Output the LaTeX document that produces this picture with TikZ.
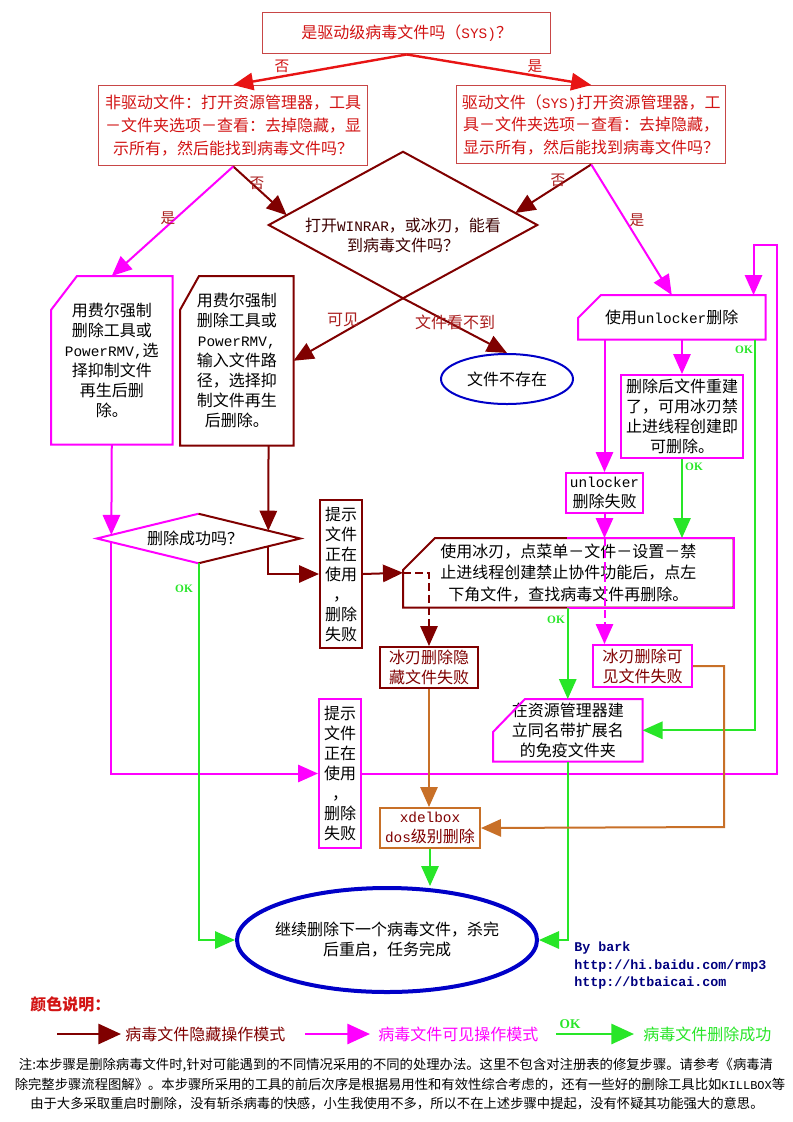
\documentclass[tikz,border=0pt]{standalone}
\usepackage{fontspec}
\setmainfont{Noto Sans CJK SC}
\newfontfamily\lmono[Scale=0.9]{Liberation Mono}
\newfontfamily\byfont{Liberation Mono}
\newfontfamily\okfont{Liberation Serif}
\usetikzlibrary{arrows.meta,calc,shapes.geometric}
\definecolor{boxred}{RGB}{200,70,70}
\definecolor{txtred}{RGB}{210,20,20}
\definecolor{arrred}{RGB}{232,20,20}
\definecolor{dr}{RGB}{128,0,0}
\definecolor{mg}{RGB}{255,0,255}
\definecolor{gr}{RGB}{40,230,40}
\definecolor{brn}{RGB}{200,112,40}
\definecolor{blu}{RGB}{0,0,200}
\definecolor{navy}{RGB}{0,0,128}
\definecolor{lblc}{RGB}{170,30,30}
\newcommand\lat[1]{{\lmono #1}}
\newcommand\mybox[7]{\node[#1,anchor=north west,inner sep=0pt,minimum width={(#5-#3)*0.75pt},minimum height={(#6-#4)*0.75pt}] (#2) at (#3,#4) {#7};}
\newcommand\chbox[4]{\draw[#1] (#2.south west) -- (#2.south east) -- (#2.north east) -- ($(#2.north west)+(#3,0)$) -- ($(#2.north west)+(0,#4)$) -- cycle;}
\begin{document}
\begin{tikzpicture}[x=0.75pt,y=-0.75pt,
  sBase/.style={font=\fontsize{12pt}{15pt}\selectfont, align=center},
  sRed/.style={sBase, draw=boxred, line width=1.1pt, text=txtred, font=\fontsize{12pt}{17pt}\selectfont},
  sMg/.style={sBase, draw=mg, line width=1.5pt},
  sDr/.style={sBase, draw=dr, line width=1.5pt},
  sBr/.style={sBase, draw=brn, line width=1.5pt, text=dr},
  sArr/.style={-{Triangle[length=15pt,width=13pt]}},
  sRL/.style={sArr, color=arrred, line width=1.8pt},
  sDL/.style={sArr, color=dr, line width=1.5pt},
  sML/.style={sArr, color=mg, line width=1.5pt},
  sGL/.style={sArr, color=gr, line width=1.5pt},
  sBL/.style={sArr, color=brn, line width=1.5pt},
  sLblTop/.style={font=\fontsize{11pt}{13pt}\selectfont, text=txtred, inner sep=0pt},
  sLbl/.style={font=\fontsize{11pt}{13pt}\selectfont, text=lblc, inner sep=0pt},
  sOK/.style={font=\okfont\bfseries\fontsize{8.5pt}{10pt}\selectfont, text=gr, inner sep=0pt},
  sDash/.style={dash pattern=on 6pt off 3pt}
]
\useasboundingbox (0,0) rectangle (793,1122);
\fill[white] (0,0) rectangle (793,1122);

% ---------- boxes ----------
\mybox{sRed}{T0}{262}{12}{550}{53}{是驱动级病毒文件吗（\lat{SYS)}？}
\mybox{sRed}{L1}{98}{85}{367}{165}{非驱动文件：打开资源管理器，工具\\－文件夹选项－查看：去掉隐藏，显\\示所有，然后能找到病毒文件吗？}
\mybox{sRed}{R1}{456}{85}{725}{163}{驱动文件（\lat{SYS)}打开资源管理器，工\\具－文件夹选项－查看：去掉隐藏，\\显示所有，然后能找到病毒文件吗？}

\node[inner sep=0pt, minimum width=201pt, minimum height=109.5pt] (D) at (403,225) {};
\draw[dr, line width=1.5pt] (D.north) -- (D.east) -- (D.south) -- (D.west) -- cycle;
\node[sBase, text={rgb,255:red,60;green,0;blue,0}] (Dt) at (403,235) {打开\lat{WINRAR}，或冰刃，能看\\到病毒文件吗？};

\mybox{sBase}{LD}{51}{276}{172}{444}{用费尔强制\\删除工具或\\\lat{PowerRMV,}选\\择抑制文件\\再生后删\\除。}
\chbox{mg, line width=1.5pt}{LD}{26}{34}
\mybox{sBase}{MD}{180}{276}{293}{445}{用费尔强制\\删除工具或\\\lat{PowerRMV,}\\输入文件路\\径，选择抑\\制文件再生\\后删除。}
\chbox{dr, line width=1.5pt}{MD}{19}{34}

\node[ellipse, draw=blu, line width=1.5pt, inner sep=0pt, minimum width=99pt, minimum height=37.5pt, font=\fontsize{12pt}{15pt}\selectfont] (E1) at (507,379) {文件不存在};

\mybox{sBase}{UL}{578}{295}{765}{339}{使用\lat{unlocker}删除}
\chbox{mg, line width=1.5pt}{UL}{23}{23}
\mybox{sMg}{RB}{620}{374}{742}{457}{删除后文件重建\\了，可用冰刃禁\\止进线程创建即\\可删除。}
\mybox{sMg}{UF}{565}{472}{642}{512}{\lat{unlocker}\\删除失败}

\node[inner sep=0pt, minimum width=152.25pt, minimum height=36.75pt] (D2) at (198.5,538.5) {};
\draw[mg, line width=1.5pt] (D2.north) -- (D2.west) -- (D2.south);
\draw[dr, line width=1.5pt] (D2.north) -- (D2.east) -- (D2.south);
\node[sBase] (D2t) at (195,538) {删除成功吗？};

\mybox{sDr}{T1}{319}{499}{361}{647}{提示\\文件\\正在\\使用\\，\\删除\\失败}
\mybox{sBase, font=\fontsize{12pt}{16pt}\selectfont}{BB}{403}{538}{733}{607}{使用冰刃，点菜单－文件－设置－禁\\止进线程创建禁止协件功能后，点左\\下角文件，查找病毒文件再删除。}
\chbox{dr, line width=1.5pt}{BB}{32}{32}
\draw[mg, line width=1.5pt] ($(BB.north west)+(164,0)$) -- (BB.north east) -- (BB.south east) -- ($(BB.south west)+(164,0)$);
\mybox{sDr, text=dr}{HF}{379}{646}{477}{687}{冰刃删除隐\\藏文件失败}
\mybox{sMg, text=dr}{VF}{592}{644}{691}{686}{冰刃删除可\\见文件失败}
\mybox{sBase}{IM}{493}{699}{642}{761}{在资源管理器建\\立同名带扩展名\\的免疫文件夹}
\chbox{mg, line width=1.5pt}{IM}{32}{33}
\mybox{sMg}{T2}{318}{698}{360}{847}{提示\\文件\\正在\\使用\\，\\删除\\失败}
\mybox{sBr}{XD}{379}{807}{479}{847}{\lat{xdelbox}\\\lat{dos}级别删除}

\node[ellipse, draw=blu, line width=3pt, inner sep=0pt, minimum width=225pt, minimum height=78pt] (E2) at (387,940) {};
\node[sBase] (E2t) at (387,940) {继续删除下一个病毒文件，杀完\\后重启，任务完成};

% ---------- red connectors ----------
\draw[sRL] (T0.south) -- (L1.north);
\draw[sRL] (T0.south) -- (R1.north);
\node[sLblTop] at (282,66) {否};
\node[sLblTop] at (535,66) {是};

% ---------- dark red connectors ----------
\draw[sDL] (L1.south) -- ($(D.west)!0.134!(D.north)$);
\draw[sDL] (R1.south) -- ($(D.north)!0.836!(D.east)$);
\node[sLbl] at (257,183) {否};
\node[sLbl] at (558,180) {否};
\draw[sDL] (D.south) -- (MD.east);
\node[sLbl, font=\fontsize{12pt}{14pt}\selectfont] at (343,320) {可见};
\draw[sDL] (D.south) -- (E1.north);
\node[sLbl, font=\fontsize{12pt}{14pt}\selectfont] at (455,322) {文件看不到};
\draw[sDL] ($(MD.south east)+(-25,0)$) -- ($(D2.north)!0.686!(D2.east)$);
\draw[sDL] ($(D2.east)!0.314!(D2.south)$) |- (T1.west);
\draw[sDL] (T1.east) -- (BB.west);
\draw[sDL, sDash] (BB.west) -| (HF.north);

% ---------- magenta connectors ----------
\draw[sML] (L1.south) -- (LD.north);
\draw[sML] (R1.south) -- (UL.north);
\node[sLbl] at (168,218) {是};
\node[sLbl] at (637,220) {是};
\draw[sML] (LD.south) -- ($(D2.west)!0.1436!(D2.north)$);
\draw[sML] ($(D2.west)!0.1436!(D2.south)$) |- (T2.west);
\coordinate (lpR) at (777,245);
\draw[sML] (T2.east) -| (lpR) -| ($(UL.north east)+(-12,0)$);
\draw[sML] (UF.north |- UL.south) -- (UF.north);
\draw[sML] (RB.north |- UL.south) -- (RB.north);
\draw[sML] (UF.south) -- (UF.south |- BB.north);
\draw[sML, sDash] (UF.south |- BB.north) -- (UF.south |- VF.north);

% ---------- green connectors ----------
\draw[sGL] (D2.south) |- (E2.west);
\node[sOK] at (184,589) {OK};
\draw[sGL] (RB.south) -- (RB.south |- BB.north);
\node[sOK] at (694,467) {OK};
\draw[sGL] ($(UL.south east)+(-11,0)$) |- (IM.east);
\node[sOK] at (744,350) {OK};
\draw[sGL] (IM.north |- BB.south) -- (IM.north);
\node[sOK] at (556,620) {OK};
\draw[sGL] (IM.south) |- (E2.east);
\draw[sGL] (XD.south) -- (XD.south |- E2.north);

% ---------- brown connectors ----------
\draw[sBL] (HF.south) -- (HF.south |- XD.north);
\coordinate (bc) at (724,827);
\draw[sBL] (VF.east) -| (bc) -- (XD.east);

% ---------- byline ----------
\node[anchor=west, inner sep=0pt, text=navy, font=\byfont\bfseries\fontsize{10pt}{12pt}\selectfont] (by1) at (574,948) {By bark};
\node[anchor=west, inner sep=0pt, text=navy, font=\byfont\bfseries\fontsize{10pt}{12pt}\selectfont] (by2) at (574,966) {http://hi.baidu.com/rmp3};
\node[anchor=west, inner sep=0pt, text=navy, font=\byfont\bfseries\fontsize{10pt}{12pt}\selectfont] (by3) at (574,983) {http://btbaicai.com};

% ---------- legend ----------
\node[anchor=west, inner sep=0pt, text=txtred, font=\bfseries\fontsize{12pt}{14pt}\selectfont] (cs) at (30,1004) {颜色说明：};
\coordinate (la1) at (57,1034);
\coordinate (la2) at (121,1034);
\draw[dr, line width=2.2pt, -{Triangle[length=17pt,width=15pt]}] (la1) -- (la2);
\node[anchor=west, inner sep=0pt, text=dr, font=\fontsize{12pt}{14pt}\selectfont] (lt1) at (125,1034) {病毒文件隐藏操作模式};
\coordinate (lb1) at (305,1034);
\coordinate (lb2) at (370,1034);
\draw[mg, line width=2.2pt, -{Triangle[length=17pt,width=15pt]}] (lb1) -- (lb2);
\node[anchor=west, inner sep=0pt, text=mg, font=\fontsize{12pt}{14pt}\selectfont] (lt2) at (378,1034) {病毒文件可见操作模式};
\coordinate (lc1) at (556,1034);
\coordinate (lc2) at (634,1034);
\draw[gr, line width=2.2pt, -{Triangle[length=17pt,width=15pt]}] (lc1) -- (lc2);
\node[sOK, font=\okfont\bfseries\fontsize{10pt}{12pt}\selectfont] (lok) at (570,1024) {OK};
\node[anchor=west, inner sep=0pt, text=gr, font=\fontsize{12pt}{14pt}\selectfont] (lt3) at (643,1034) {病毒文件删除成功};

% ---------- note ----------
\node[inner sep=0pt, font=\fontsize{10pt}{12pt}\selectfont] (n1) at (396,1065) {注:本步骤是删除病毒文件时,针对可能遇到的不同情况采用的不同的处理办法。这里不包含对注册表的修复步骤。请参考《病毒清};
\node[inner sep=0pt, font=\fontsize{10pt}{12pt}\selectfont] (n2) at (400,1085) {除完整步骤流程图解》。本步骤所采用的工具的前后次序是根据易用性和有效性综合考虑的，还有一些好的删除工具比如\lat{KILLBOX}等};
\node[inner sep=0pt, font=\fontsize{10pt}{12pt}\selectfont] (n3) at (397,1104) {由于大多采取重启时删除，没有斩杀病毒的快感，小生我使用不多，所以不在上述步骤中提起，没有怀疑其功能强大的意思。};
\end{tikzpicture}
\end{document}
